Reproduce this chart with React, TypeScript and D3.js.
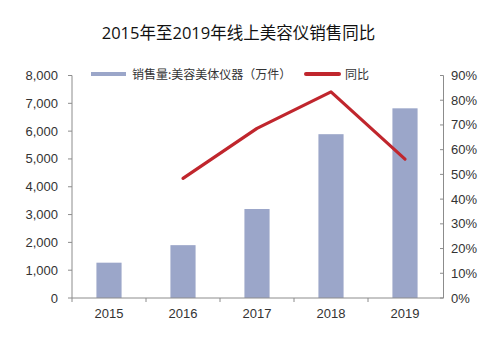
import React from "react";
import * as d3 from "d3";

const years = ["2015", "2016", "2017", "2018", "2019"];
const sales = [1270, 1900, 3200, 5890, 6820];
const yoyYears = ["2016", "2017", "2018", "2019"];
const yoy = [48.4, 68.6, 83.4, 56.2];
const leftTicks = [0, 1000, 2000, 3000, 4000, 5000, 6000, 7000, 8000];
const rightTicks = [0, 10, 20, 30, 40, 50, 60, 70, 80, 90];

const title = "2015年至2019年线上美容仪销售同比";
const legendBar = "销售量:美容美体仪器（万件）";
const legendLine = "同比";

export default function App() {
  const W = 500, H = 343;
  const left = 72, right = 442, top = 75.5, bottom = 298;
  const x = d3.scaleBand().domain(years).range([left, right]).paddingInner(0.66).paddingOuter(0.33);
  const yL = d3.scaleLinear().domain([0, 8000]).range([bottom, top]);
  const yR = d3.scaleLinear().domain([0, 90]).range([bottom, top]);
  const fmt = d3.format(",");
  const line = d3.line<number>()
    .x((_, i) => (x(yoyYears[i]) as number) + x.bandwidth() / 2)
    .y((d) => yR(d));
  const axisColor = "#8c8c8c";
  const tickFont = "Liberation Sans, Arial, sans-serif";
  const cjk = "'Noto Sans CJK SC', sans-serif";
  const titleFont = "'Open Sans', 'Noto Sans CJK SC', sans-serif";
  const step = (right - left) / years.length;
  return (
    <svg width={W} height={H} style={{ position: "absolute", left: 0, top: 0, background: "#fff" }}>
      <text x={238.5} y={39} textAnchor="middle" fontFamily={titleFont} fontSize={16.5} fontWeight={400} fill="#111">{title}</text>
      {/* bars */}
      {years.map((yr, i) => (
        <rect key={yr} x={x(yr)} y={yL(sales[i])} width={x.bandwidth()} height={bottom - yL(sales[i])} fill="#9ba6c9" />
      ))}
      <path d={line(yoy) || ""} fill="none" stroke="#c0262d" strokeWidth={3.2} strokeLinejoin="round" strokeLinecap="round" />
      {/* left axis */}
      <line x1={left} x2={left} y1={top} y2={bottom} stroke={axisColor} />
      {leftTicks.map((t) => (
        <g key={t}>
          <line x1={left - 4} x2={left} y1={yL(t)} y2={yL(t)} stroke={axisColor} />
          <text x={left - 14} y={yL(t)} dy="0.35em" textAnchor="end" fontFamily={tickFont} fontSize={13} fill="#333">{fmt(t)}</text>
        </g>
      ))}
      {/* right axis */}
      <line x1={right + 1.5} x2={right + 1.5} y1={top} y2={bottom} stroke={axisColor} />
      {rightTicks.map((t) => (
        <g key={t}>
          <line x1={right - 2} x2={right + 1.5} y1={yR(t)} y2={yR(t)} stroke={axisColor} />
          <text x={451} y={yR(t)} dy="0.35em" textAnchor="start" fontFamily={tickFont} fontSize={13} fill="#333">{t + "%"}</text>
        </g>
      ))}
      {/* x axis */}
      <line x1={left} x2={right + 1.5} y1={bottom} y2={bottom} stroke={axisColor} />
      {years.map((yr, i) => (
        <g key={yr}>
          <line x1={left + step * i} x2={left + step * i} y1={bottom} y2={bottom + 4} stroke={axisColor} />
          <text x={(x(yr) as number) + x.bandwidth() / 2} y={318} textAnchor="middle" fontFamily={tickFont} fontSize={13} fill="#333">{yr}</text>
        </g>
      ))}
      {/* legend */}
      <rect x={91} y={72} width={35} height={4} fill="#9ba6c9" />
      <text x={132} y={78.5} fontFamily={cjk} fontSize={12} fill="#333">{legendBar}</text>
      <line x1={306} x2={339} y1={74} y2={74} stroke="#c0262d" strokeWidth={4} strokeLinecap="round" />
      <text x={345} y={78.5} fontFamily={cjk} fontSize={12} fill="#333">{legendLine}</text>
    </svg>
  );
}
